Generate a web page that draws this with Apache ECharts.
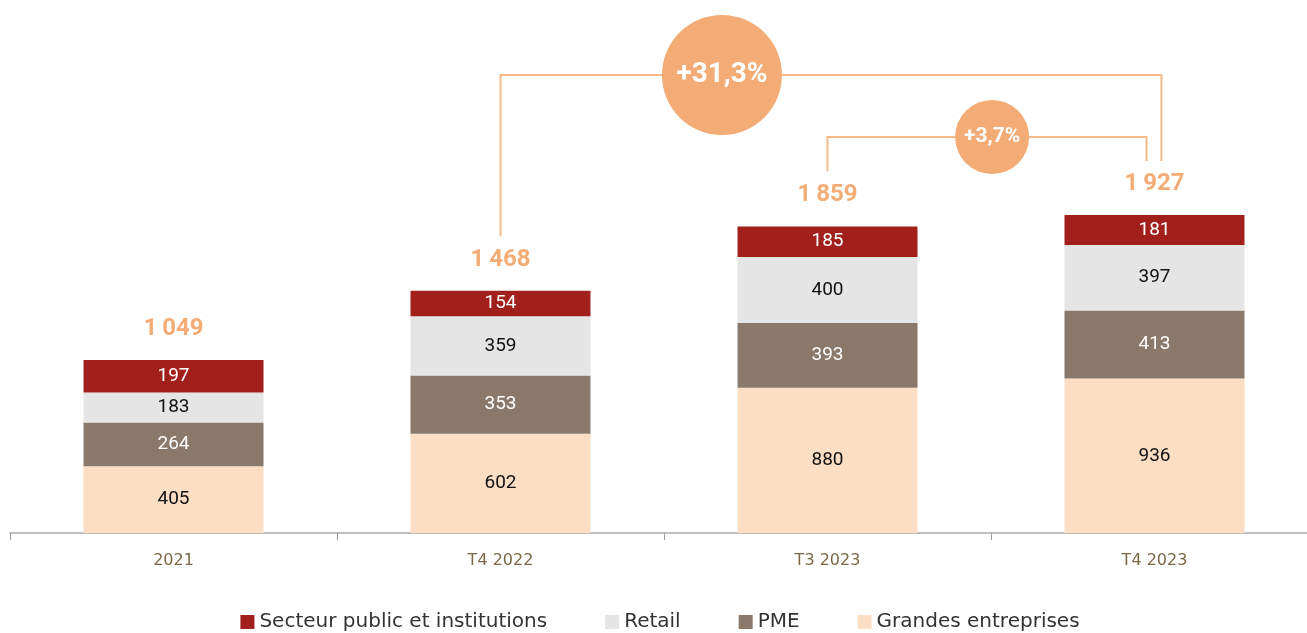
<!doctype html>
<html>
<head>
<meta charset="UTF-8">
<title>Encours par segment</title>
<style>
  html, body { margin: 0; padding: 0; background: #fff; overflow: hidden; }
  #main { width: 1320px; height: 633px; }
</style>
</head>
<body>
<div id="main"></div>
<script src="https://cdn.jsdelivr.net/npm/echarts@6/dist/echarts.min.js"></script>
<script>
// données
var periodes = ['2021', 'T4 2022', 'T3 2023', 'T4 2023'];
var grandesEntreprises = [405, 602, 880, 936];
var pme = [264, 353, 393, 413];
var retail = [183, 359, 400, 397];
var secteurPublic = [197, 154, 185, 181];
var totaux = [1049, 1468, 1859, 1927];
var hausses = [
  { de: 1, a: 3, texte: '+31,3%' },
  { de: 2, a: 3, texte: '+3,7%' }
];

var police = 'Roboto, "DejaVu Sans", sans-serif';
var policeLarge = '"DejaVu Sans", Roboto, sans-serif';
var orange = '#f3ac76';

function fmt(v) {
  var s = String(v);
  return s.length > 3 ? s.slice(0, s.length - 3) + '\u2009' + s.slice(-3) : s;
}

function serie(nom, data, couleur, couleurTexte) {
  return {
    name: nom, type: 'bar', stack: 'total', data: data, barWidth: 180,
    itemStyle: { color: couleur },
    label: { show: true, position: 'inside', color: couleurTexte, fontSize: 19, fontFamily: police },
    emphasis: { disabled: true }
  };
}

var chart = echarts.init(document.getElementById('main'));
chart.setOption({
  animation: false,
  textStyle: { fontFamily: police },
  grid: { left: 10, width: 1308, top: 170, bottom: 100, containLabel: false },
  legend: {
    top: 607, left: 'center', itemWidth: 14, itemHeight: 14, itemGap: 58, icon: 'rect',
    textStyle: { fontSize: 20, color: '#333', fontFamily: policeLarge },
    data: ['Secteur public et institutions', 'Retail', 'PME', 'Grandes entreprises']
  },
  xAxis: {
    type: 'category', data: periodes,
    axisLine: { lineStyle: { color: '#aaa', width: 1.5 } },
    axisTick: { show: true, lineStyle: { color: '#999', width: 1 }, length: 7 },
    axisLabel: { color: '#7c6846', fontSize: 16, margin: 20, fontFamily: policeLarge }
  },
  yAxis: { type: 'value', min: 0, max: 2200, show: false, splitLine: { show: false } },
  series: [
    serie('Grandes entreprises', grandesEntreprises, '#fbdec4', '#111'),
    serie('PME', pme, '#8a786b', '#fff'),
    serie('Retail', retail, '#e5e5e5', '#111'),
    serie('Secteur public et institutions', secteurPublic, '#a2201c', '#fff'),
    {
      name: 'Total', type: 'bar', data: totaux, barWidth: 180, barGap: '-100%', z: 0,
      itemStyle: { color: 'rgba(0,0,0,0)' },
      label: {
        show: true, position: 'top', distance: 19, color: orange, fontSize: 24,
        fontWeight: 'bold', fontFamily: police, formatter: function (p) { return fmt(p.value); }
      },
      emphasis: { disabled: true }
    }
  ]
});

// crochets et bulles de variation
var hautsCrochets = [75, 137];
var rayons = [60, 37];
var taillesTexte = [28, 21];
var positionsBulle = [0.335, 0.516];
var decalages = [[0, 7], [0, -8]];
var elements = [];
hausses.forEach(function (h, i) {
  var p1 = chart.convertToPixel({ seriesIndex: 0 }, [h.de, totaux[h.de]]);
  var p2 = chart.convertToPixel({ seriesIndex: 0 }, [h.a, totaux[h.a]]);
  var x1 = p1[0] + decalages[i][0], x2 = p2[0] + decalages[i][1];
  var y = hautsCrochets[i];
  elements.push({
    type: 'polyline', z: 10,
    shape: { points: [[x1, p1[1] - 55], [x1, y], [x2, y], [x2, p2[1] - 54]] },
    style: { stroke: '#f5b98a', lineWidth: 2, fill: null }
  });
  var cx = x1 + (x2 - x1) * positionsBulle[i];
  elements.push({
    type: 'circle', z: 11,
    shape: { cx: cx, cy: y, r: rayons[i] },
    style: { fill: orange }
  });
  elements.push({
    type: 'text', z: 12, x: cx, y: y,
    style: {
      text: h.texte, fill: '#fff', font: 'bold ' + taillesTexte[i] + 'px ' + police,
      align: 'center', verticalAlign: 'middle'
    }
  });
});
chart.setOption({ graphic: elements });
</script>
</body>
</html>
